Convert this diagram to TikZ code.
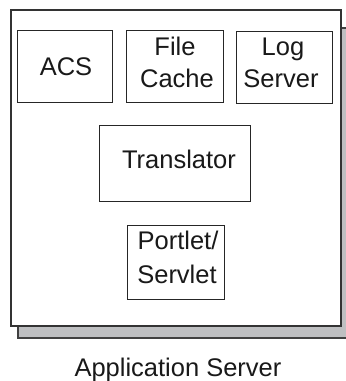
\documentclass[tikz,border=0pt]{standalone}
\usepackage{fontspec}
\setmainfont{Liberation Sans}
\begin{document}
\begin{tikzpicture}[x=1pt,y=-1pt,
  frame/.style={draw=black!80,line width=1.3pt,fill=white},
  shadowbox/.style={draw=black!75,line width=1.2pt,fill=shade},
  compbox/.style={draw=black!85,line width=1pt,fill=white,inner sep=0pt},
  txt/.style={inner sep=0pt,anchor=base,text=black!90,
    font=\fontsize{25.5}{32}\selectfont}]
\definecolor{shade}{HTML}{BEBFC1}
\useasboundingbox (0,0) rectangle (346,381);
% drop shadow and server frame
\path[shadowbox] (18,28) rectangle (354,338);
\path[frame] (11,10) rectangle (341,326);
% components
\node[compbox,minimum width=95pt,minimum height=72pt] (acs) at (65,66.8) {};
\node[compbox,minimum width=97pt,minimum height=72pt] (cache) at (174.5,66) {};
\node[compbox,minimum width=96pt,minimum height=72pt] (log) at (284,67) {};
\node[compbox,minimum width=151pt,minimum height=76pt] (trans) at (174.5,163) {};
\node[compbox,minimum width=97pt,minimum height=74pt] (portlet) at (175.5,262) {};
% labels
\node[txt] (acs-t) at (66,75) {ACS};
\node[txt] (cache-t1) at (175,55) {File};
\node[txt] (cache-t2) at (177,87) {Cache};
\node[txt] (log-t1) at (283,55) {Log};
\node[txt] (log-t2) at (281,87) {Server};
\node[txt] (trans-t) at (179,168.3) {Translator};
\node[txt] (portlet-t1) at (178,249) {Portlet/};
\node[txt] (portlet-t2) at (177,283) {Servlet};
\node[txt] (server-t) at (178,376.7) {Application Server};
\end{tikzpicture}
\end{document}
